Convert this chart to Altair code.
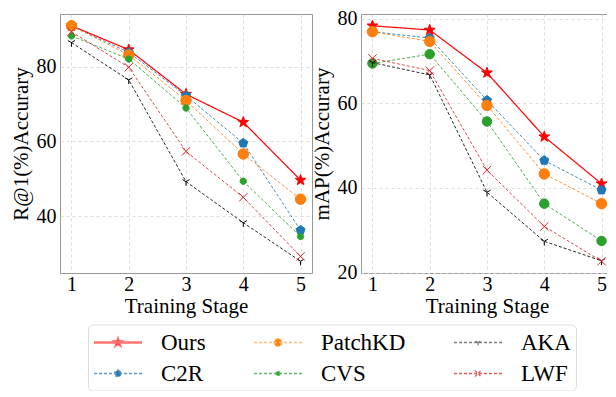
import math
import altair as alt
import pandas as pd

# ---------------- data ----------------
stages = [1, 2, 3, 4, 5]
series_names = ["Ours", "C2R", "PatchKD", "CVS", "AKA", "LWF"]
legend_order = ["Ours", "PatchKD", "AKA", "C2R", "CVS", "LWF"]

r1_ours = [90.9, 84.5, 72.6, 65.1, 49.6]
r1_c2r = [90.8, 83.8, 72.2, 59.5, 36.2]
r1_patchkd = [90.9, 83.1, 70.9, 56.6, 44.5]
r1_cvs = [88.2, 82.0, 68.9, 49.3, 34.5]
r1_aka = [86.4, 76.4, 49.2, 38.2, 27.9]
r1_lwf = [89.3, 79.8, 57.3, 45.0, 29.2]

map_ours = [78.3, 77.3, 67.2, 52.1, 41.0]
map_c2r = [76.9, 75.4, 60.7, 46.5, 39.5]
map_patchkd = [76.9, 74.6, 59.5, 43.3, 36.3]
map_cvs = [69.4, 71.6, 55.7, 36.3, 27.5]
map_aka = [69.6, 66.7, 39.0, 27.4, 22.8]
map_lwf = [70.6, 67.7, 44.2, 30.9, 22.7]

r1_ticks = [40, 60, 80]
map_ticks = [20, 40, 60, 80]

# ---------------- styles ----------------
colors = {"Ours": "#ff0000", "C2R": "#1f77b4", "PatchKD": "#ff7f0e",
          "CVS": "#2ca02c", "AKA": "#000000", "LWF": "#d62728"}
dashes = {"Ours": [1, 0], "C2R": [3, 2], "PatchKD": [3, 2],
          "CVS": [3, 2], "AKA": [3, 2], "LWF": [3, 2]}
FONT = "Liberation Serif, Times New Roman, serif"


def lighten(hexc, a):
    r, g, b = (int(hexc[i:i + 2], 16) for i in (1, 3, 5))
    mix = lambda c: int(round(c * a + 255 * (1 - a)))
    return "#%02x%02x%02x" % (mix(r), mix(g), mix(b))


legend_alpha = {"Ours": 0.55, "C2R": 0.75, "PatchKD": 0.55, "CVS": 0.75, "AKA": 0.5, "LWF": 0.75}


def fmt(v):
    return ("%.3f" % v).rstrip("0").rstrip(".")


def poly_path(pts):
    return "M" + "L".join(fmt(x) + "," + fmt(y) for x, y in pts) + "Z"


def star_pts(r=1.0, inner=0.4):
    pts = []
    for i in range(10):
        a = -math.pi / 2 + i * math.pi / 5
        rr = r if i % 2 == 0 else r * inner
        pts.append((rr * math.cos(a), rr * math.sin(a)))
    return pts


def pent_pts(r=1.0):
    return [(r * math.cos(-math.pi / 2 + i * 2 * math.pi / 5),
             r * math.sin(-math.pi / 2 + i * 2 * math.pi / 5)) for i in range(5)]


def marker_path(kind, r=1.0, cx=0.0):
    if kind == "star":
        return poly_path([(x + cx, y) for x, y in star_pts(r)])
    if kind == "pent":
        return poly_path([(x + cx, y) for x, y in pent_pts(r)])
    if kind == "circle":
        return ("M" + fmt(cx + r) + ",0A" + fmt(r) + "," + fmt(r) + " 0 1,1 " + fmt(cx - r) + ",0"
                "A" + fmt(r) + "," + fmt(r) + " 0 1,1 " + fmt(cx + r) + ",0Z")
    if kind == "tri":
        s = 0.866 * r
        return ("M" + fmt(cx) + ",0L" + fmt(cx) + "," + fmt(r) +
                "M" + fmt(cx) + ",0L" + fmt(cx - s) + "," + fmt(-0.5 * r) +
                "M" + fmt(cx) + ",0L" + fmt(cx + s) + "," + fmt(-0.5 * r))
    if kind == "x":
        return ("M" + fmt(cx - r) + "," + fmt(-r) + "L" + fmt(cx + r) + "," + fmt(r) +
                "M" + fmt(cx - r) + "," + fmt(r) + "L" + fmt(cx + r) + "," + fmt(-r))


kinds = {"Ours": "star", "C2R": "pent", "PatchKD": "circle", "CVS": "circle", "AKA": "tri", "LWF": "x"}
sizes_left = {"Ours": 130, "C2R": 90, "PatchKD": 110, "CVS": 40, "AKA": 70, "LWF": 70}
sizes_right = {"Ours": 130, "C2R": 90, "PatchKD": 110, "CVS": 90, "AKA": 70, "LWF": 70}
legend_r = {"Ours": 0.44, "C2R": 0.3, "PatchKD": 0.33, "CVS": 0.18, "AKA": 0.24, "LWF": 0.26}


def legend_line(s):
    if s == "Ours":
        return "M-1,-0.06L3,-0.06M-1,0.06L3,0.06"
    return "M-1,0L3,0"


legend_paths = [legend_line(s) + marker_path(kinds[s], legend_r[s], 1.0) for s in legend_order]

r1_values = {"Ours": r1_ours, "C2R": r1_c2r, "PatchKD": r1_patchkd,
             "CVS": r1_cvs, "AKA": r1_aka, "LWF": r1_lwf}
map_values = {"Ours": map_ours, "C2R": map_c2r, "PatchKD": map_patchkd,
              "CVS": map_cvs, "AKA": map_aka, "LWF": map_lwf}

PLOT_W, PLOT_H = 252, 259


def long_df(values):
    rows = []
    for s in series_names:
        for st, v in zip(stages, values[s]):
            rows.append({"stage": st, "value": v, "series": s, "method": s})
    return pd.DataFrame(rows)


def padded(lo, hi, frac=0.05):
    d = hi - lo
    return [lo - frac * d, hi + frac * d]


def panel(values, ytitle, yticks, msizes, with_legend):
    df = long_df(values)
    ydom = padded(df["value"].min(), df["value"].max())
    xdom = padded(min(stages), max(stages))
    x = alt.X("stage:Q", scale=alt.Scale(domain=xdom, nice=False, zero=False),
              axis=alt.Axis(values=stages, format="d", title="Training Stage"))
    y = alt.Y("value:Q", scale=alt.Scale(domain=ydom, nice=False, zero=False),
              axis=alt.Axis(values=yticks, format="d", title=ytitle))
    base = alt.Chart(df)
    layers = []
    for s in series_names:
        sub = base.transform_filter(alt.datum.series == s)
        layers.append(sub.mark_line(color=colors[s], strokeWidth=1.2 if s == "Ours" else 1.0,
                                    strokeDash=dashes[s], opacity=1.0 if s == "Ours" else 0.85)
                      .encode(x=x, y=y))
        layers.append(sub.mark_point(shape=marker_path(kinds[s]), size=msizes[s], filled=True,
                                     fill=colors[s], stroke=colors[s], strokeWidth=1.0, opacity=1)
                      .encode(x=x, y=y))
    if with_legend:
        leg = alt.Legend(title=None)
        fills = [colors[s] for s in legend_order]
        strokes = [lighten(colors[s], legend_alpha[s]) for s in legend_order]
        layers.append(base.transform_filter("false").mark_point(filled=True, opacity=1).encode(
            x=x, y=y,
            shape=alt.Shape("method:N", scale=alt.Scale(domain=legend_order, range=legend_paths), legend=leg),
            fill=alt.Fill("method:N", scale=alt.Scale(domain=legend_order, range=fills), legend=leg),
            stroke=alt.Stroke("method:N", scale=alt.Scale(domain=legend_order, range=strokes), legend=leg),
            strokeDash=alt.StrokeDash("method:N", scale=alt.Scale(domain=legend_order,
                                                                  range=[dashes[s] for s in legend_order]),
                                      legend=leg),
        ))
    return alt.layer(*layers).properties(width=PLOT_W, height=PLOT_H)


left = panel(r1_values, "R@1(%)Accurary", r1_ticks, sizes_left, True)
right = panel(map_values, "mAP(%)Accurary", map_ticks, sizes_right, False)

chart = (
    alt.hconcat(left, right, spacing=-3)
    .properties(padding={"left": 1, "top": 0, "right": -7, "bottom": 0})
    .configure(font=FONT)
    .configure_view(stroke="#999999", strokeWidth=1)
    .configure_axis(
        grid=True, gridColor="#d4d4d4", gridDash=[3, 3], gridWidth=0.8,
        domain=False, ticks=False,
        labelFont=FONT, labelFontSize=20, labelColor="#000000",
        titleFont=FONT, titleFontSize=21, titleFontWeight="normal", titleColor="#000000",
    )
    .configure_axisX(labelPadding=1, titlePadding=1)
    .configure_axisY(labelPadding=4, titlePadding=5)
    .configure_legend(
        orient="none", legendX=28, legendY=310.5, columns=3, direction="horizontal",
        symbolSize=576, symbolStrokeWidth=1.3, symbolOpacity=1,
        labelFont=FONT, labelFontSize=23, labelColor="#000000", labelOffset=42,
        columnPadding=45, rowPadding=6, padding=5,
        strokeColor="#dddddd", cornerRadius=5, fillColor="#ffffff",
    )
)

chart.save("out.html", embed_options={"renderer": "svg", "actions": False})
